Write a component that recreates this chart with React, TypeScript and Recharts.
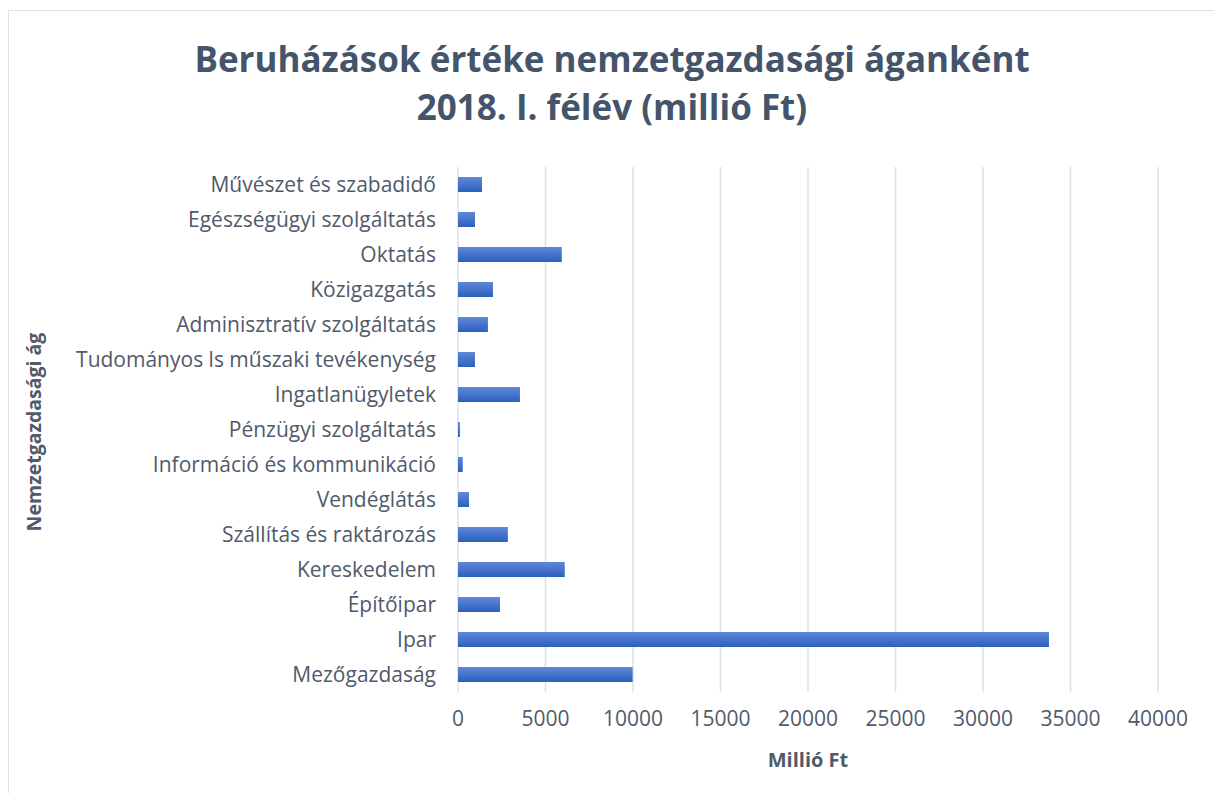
import React from 'react';
import { BarChart, Bar, XAxis, YAxis, CartesianGrid } from 'recharts';

const categories: string[] = [
  'Művészet és szabadidő',
  'Egészségügyi szolgáltatás',
  'Oktatás',
  'Közigazgatás',
  'Adminisztratív szolgáltatás',
  'Tudományos ls műszaki tevékenység',
  'Ingatlanügyletek',
  'Pénzügyi szolgáltatás',
  'Információ és kommunikáció',
  'Vendéglátás',
  'Szállítás és raktározás',
  'Kereskedelem',
  'Építőipar',
  'Ipar',
  'Mezőgazdaság',
];

const values: number[] = [
  1370, 970, 5930, 2000, 1710, 970, 3540, 110, 270, 630, 2850, 6100, 2400, 33770, 9980,
];

const xTicks: number[] = [0, 5000, 10000, 15000, 20000, 25000, 30000, 35000, 40000];

const titleLines: string[] = [
  'Beruházások értéke nemzetgazdasági áganként',
  '2018. I. félév (millió Ft)',
];
const xTitle = 'Millió Ft';
const yTitle = 'Nemzetgazdasági ág';

const data = categories.map((name, i) => ({ name, value: values[i] }));

const FONT = '"Open Sans", Calibri, sans-serif';
const TEXT = '#44546A';
const TICK = '#505A6B';

export default function App() {
  return (
    <div style={{ position: 'relative', width: 1222, height: 801, margin: -8, background: '#fff', fontFamily: FONT }}>
      <div style={{ position: 'absolute', left: 8, top: 10, width: 1209, height: 800, border: '1.5px solid #DDE1E8', boxSizing: 'border-box' }} />
      <div style={{ position: 'absolute', left: 0, top: 35, width: 1224, textAlign: 'center', fontSize: 35, fontWeight: 700, color: TEXT, lineHeight: '48px' }}>
        {titleLines.map((t) => (
          <div key={t}>{t}</div>
        ))}
      </div>
      <div style={{ position: 'absolute', left: 0, top: 0 }}>
        <BarChart
          width={1222}
          height={801}
          data={data}
          layout="vertical"
          margin={{ top: 167, right: 64, bottom: 79, left: 0 }}
          barSize={15}
        >
          <defs>
            <linearGradient id="barGrad" x1="0" y1="0" x2="0" y2="1">
              <stop offset="0%" stopColor="#5F88D8" />
              <stop offset="100%" stopColor="#2C60BE" />
            </linearGradient>
          </defs>
          <CartesianGrid horizontal={false} stroke="#DCE0E7" strokeWidth={1.5} />
          <XAxis
            type="number"
            domain={[0, 40000]}
            ticks={xTicks}
            interval={0}
            axisLine={false}
            tickLine={false}
            tickSize={0}
            tickMargin={19}
            height={30}
            tick={{ fill: TICK, fontSize: 21, fontFamily: FONT }}
          />
          <YAxis
            type="category"
            dataKey="name"
            width={458}
            axisLine={false}
            tickLine={false}
            tickSize={0}
            tickMargin={22}
            interval={0}
            tick={{ fill: TICK, fontSize: 21, fontFamily: FONT }}
          />
          <Bar dataKey="value" fill="url(#barGrad)" isAnimationActive={false} />
        </BarChart>
      </div>
      <div style={{ position: 'absolute', left: 458, top: 746, width: 700, textAlign: 'center', fontSize: 20, fontWeight: 700, color: TICK }}>
        {xTitle}
      </div>
      <div
        style={{
          position: 'absolute',
          left: 33,
          top: 432,
          transform: 'translate(-50%, -50%) rotate(-90deg)',
          whiteSpace: 'nowrap',
          fontSize: 19.5,
          fontWeight: 700,
          color: TICK,
        }}
      >
        {yTitle}
      </div>
    </div>
  );
}
